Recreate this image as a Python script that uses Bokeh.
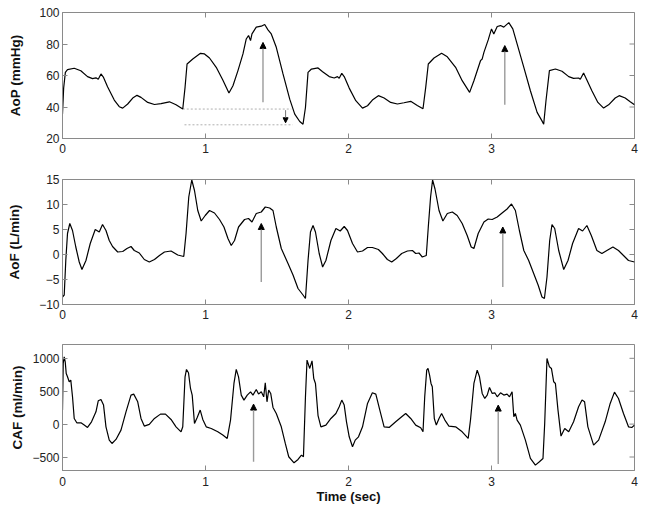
import math
from bokeh.plotting import figure
from bokeh.layouts import column
from bokeh.models import (LinearAxis, FixedTicker, Arrow, NormalHead, ColumnDataSource, Range1d)
from bokeh.embed import file_html
from bokeh.resources import INLINE

# ---------------- data ----------------
x_ticks = [0, 1, 2, 3, 4]
aop_ticks = [20, 40, 60, 80, 100]
aof_ticks = [-10, -5, 0, 5, 10, 15]
caf_ticks = [-500, 0, 500, 1000]

aop_t = [0.000, 0.008, 0.020, 0.035, 0.082, 0.128, 0.175, 0.210, 0.234, 0.250, 0.269, 0.287, 0.315, 0.362, 0.397,
         0.421, 0.456, 0.491, 0.521, 0.549, 0.596, 0.643, 0.689, 0.748, 0.794, 0.841, 0.857, 0.871, 0.911, 0.965,
         0.993, 1.028, 1.075, 1.121, 1.164, 1.192, 1.227, 1.262, 1.285, 1.301, 1.315, 1.325, 1.355, 1.390, 1.414,
         1.437, 1.460, 1.495, 1.542, 1.589, 1.624, 1.659, 1.682, 1.699, 1.717, 1.741, 1.787, 1.819, 1.865, 1.900,
         1.923, 1.935, 1.953, 1.970, 2.005, 2.051, 2.098, 2.133, 2.167, 2.209, 2.249, 2.295, 2.342, 2.388, 2.435,
         2.481, 2.521, 2.540, 2.558, 2.598, 2.651, 2.691, 2.749, 2.795, 2.847, 2.877, 2.923, 2.935, 2.947, 2.977,
         3.000, 3.016, 3.040, 3.063, 3.086, 3.121, 3.149, 3.179, 3.226, 3.272, 3.319, 3.353, 3.365, 3.381, 3.405,
         3.447, 3.493, 3.540, 3.574, 3.609, 3.621, 3.644, 3.667, 3.702, 3.744, 3.784, 3.819, 3.865, 3.893, 3.935,
         3.970, 4.000]
aop_v = [35.5, 52.0, 62.0, 63.7, 64.6, 63.0, 59.3, 58.0, 58.5, 57.6, 61.0, 58.8, 52.9, 44.4, 40.2,
         39.3, 41.9, 45.7, 47.4, 46.1, 42.9, 41.6, 42.1, 43.3, 41.4, 38.7, 52.5, 67.3, 70.5, 74.1,
         73.7, 71.1, 65.2, 57.1, 48.9, 53.5, 63.1, 73.7, 83.2, 85.4, 82.2, 86.4, 90.7, 91.3, 92.4,
         89.0, 86.4, 77.9, 61.0, 45.0, 35.5, 30.8, 29.1, 39.7, 62.0, 64.1, 64.8, 62.4, 59.3, 58.4,
         59.3, 58.2, 61.4, 59.3, 52.0, 44.0, 39.3, 40.8, 44.4, 47.2, 45.7, 42.9, 41.9, 42.7, 43.6,
         41.0, 38.9, 52.5, 67.3, 71.1, 74.1, 71.9, 65.2, 56.7, 49.3, 56.7, 69.4, 70.5, 74.7, 82.6,
         89.6, 86.4, 91.1, 91.7, 90.7, 93.6, 89.6, 80.1, 65.2, 50.3, 36.6, 31.2, 29.1, 44.0, 63.1,
         64.1, 62.7, 59.3, 58.2, 58.4, 57.6, 61.6, 57.1, 50.3, 42.9, 39.3, 41.4, 45.7, 47.2, 45.7,
         43.3, 41.4]

aof_t = [0.000, 0.012, 0.023, 0.035, 0.051, 0.070, 0.093, 0.117, 0.136, 0.164, 0.194, 0.229, 0.257, 0.280, 0.304,
         0.327, 0.350, 0.386, 0.421, 0.451, 0.479, 0.502, 0.537, 0.572, 0.607, 0.643, 0.678, 0.713, 0.759, 0.806,
         0.848, 0.864, 0.883, 0.904, 0.923, 0.946, 0.970, 0.998, 1.028, 1.063, 1.098, 1.129, 1.157, 1.180, 1.203,
         1.231, 1.273, 1.301, 1.325, 1.355, 1.390, 1.418, 1.449, 1.472, 1.495, 1.530, 1.577, 1.612, 1.647, 1.682,
         1.699, 1.717, 1.734, 1.752, 1.769, 1.795, 1.819, 1.842, 1.877, 1.912, 1.942, 1.970, 1.993, 2.028, 2.063,
         2.098, 2.133, 2.167, 2.209, 2.237, 2.272, 2.302, 2.335, 2.372, 2.412, 2.447, 2.470, 2.493, 2.516, 2.544,
         2.558, 2.574, 2.588, 2.605, 2.633, 2.660, 2.691, 2.726, 2.760, 2.795, 2.830, 2.858, 2.877, 2.907, 2.947,
         2.977, 3.005, 3.040, 3.074, 3.109, 3.140, 3.167, 3.195, 3.226, 3.260, 3.295, 3.326, 3.353, 3.370, 3.388,
         3.407, 3.423, 3.442, 3.470, 3.505, 3.535, 3.567, 3.609, 3.637, 3.667, 3.698, 3.737, 3.772, 3.807, 3.849,
         3.888, 3.923, 3.958, 4.000]
aof_v = [-8.5, -8.1, -1.2, 4.2, 6.2, 4.8, 1.5, -1.5, -3.0, -1.2, 2.2, 5.0, 4.5, 6.0, 4.8,
         2.8, 1.6, 0.5, 0.6, 1.2, 1.6, 0.8, 0.3, -1.0, -1.5, -1.0, -0.2, 0.5, 0.7, -0.1,
         -0.4, 4.2, 11.5, 14.9, 12.8, 8.8, 6.7, 7.8, 8.8, 8.3, 7.0, 5.5, 3.2, 1.8, 2.8,
         5.5, 7.0, 7.2, 6.5, 8.2, 8.5, 9.5, 9.3, 8.8, 5.5, 1.2, -1.8, -4.1, -6.8, -8.1,
         -8.8, -1.2, 4.5, 5.8, 4.5, 0.2, -2.5, -1.2, 2.8, 5.2, 4.7, 5.6, 4.8, 2.2, 0.5,
         0.7, 1.4, 1.4, 1.0, 0.2, -1.0, -1.5, -0.8, 0.2, 0.7, 0.8, 0.2, 0.3, -0.5, -0.2,
         5.5, 11.5, 14.9, 13.1, 8.8, 6.7, 8.2, 8.5, 7.8, 6.2, 3.8, 1.5, 1.2, 4.2, 6.5,
         7.1, 7.0, 7.5, 8.3, 9.1, 10.1, 8.8, 4.8, 0.8, -1.2, -3.8, -6.1, -8.5, -8.8, -4.5,
         2.8, 6.0, 5.2, 0.8, -3.0, -1.2, 2.2, 5.2, 4.7, 5.8, 3.8, 0.8, 0.2, 0.8, 1.5,
         0.8, -0.2, -1.2, -1.5]

caf_t = [0.000, 0.005, 0.012, 0.019, 0.026, 0.035, 0.047, 0.058, 0.070, 0.082, 0.100, 0.129, 0.152, 0.175, 0.203,
         0.234, 0.250, 0.269, 0.287, 0.304, 0.327, 0.346, 0.374, 0.409, 0.444, 0.479, 0.498, 0.526, 0.549, 0.572,
         0.607, 0.643, 0.685, 0.720, 0.759, 0.794, 0.829, 0.841, 0.857, 0.867, 0.881, 0.895, 0.907, 0.923, 0.942,
         0.963, 0.981, 1.005, 1.040, 1.086, 1.121, 1.152, 1.175, 1.199, 1.215, 1.231, 1.250, 1.269, 1.292, 1.315,
         1.332, 1.355, 1.371, 1.390, 1.407, 1.418, 1.430, 1.442, 1.456, 1.472, 1.495, 1.530, 1.558, 1.582, 1.619,
         1.647, 1.671, 1.685, 1.699, 1.710, 1.729, 1.745, 1.757, 1.769, 1.787, 1.807, 1.842, 1.877, 1.912, 1.935,
         1.953, 1.970, 1.986, 2.005, 2.028, 2.047, 2.070, 2.098, 2.133, 2.167, 2.191, 2.219, 2.249, 2.284, 2.330,
         2.372, 2.400, 2.435, 2.470, 2.505, 2.521, 2.533, 2.547, 2.556, 2.567, 2.577, 2.586, 2.600, 2.614, 2.633,
         2.651, 2.674, 2.702, 2.749, 2.795, 2.837, 2.853, 2.877, 2.900, 2.916, 2.935, 2.953, 2.970, 2.986, 3.005,
         3.023, 3.040, 3.063, 3.086, 3.109, 3.126, 3.144, 3.156, 3.167, 3.179, 3.202, 3.237, 3.272, 3.307, 3.335,
         3.360, 3.372, 3.388, 3.405, 3.419, 3.435, 3.447, 3.465, 3.486, 3.512, 3.540, 3.574, 3.609, 3.633, 3.651,
         3.674, 3.714, 3.749, 3.795, 3.830, 3.860, 3.888, 3.923, 3.958, 3.981, 4.000]
caf_v = [213, 922, 1023, 947, 770, 719, 643, 669, 415, 86, 20, 20, -15, -51, 35,
         187, 355, 375, 289, -41, -243, -294, -233, -91, 187, 441, 456, 339, 86, -30,
         -5, 86, 152, 152, 71, -41, -117, -41, 719, 831, 780, 542, 441, 10, 101,
         213, 71, -41, -66, -117, -167, -218, 61, 618, 831, 719, 441, 365, 441, 491,
         441, 527, 456, 491, 415, 628, 339, 517, 466, 253, 162, -41, -294, -496, -588,
         -537, -471, -496, 415, 973, 846, 962, 694, 618, 130, -41, -15, 86, 162, 263,
         365, 289, 35, -193, -344, -243, -193, -41, 314, 476, 456, 213, -41, -51, 35,
         111, 162, 86, -15, -56, -117, 415, 821, 846, 745, 618, 567, 86, -15, 86,
         162, 61, -30, -41, -117, -218, 61, 618, 821, 719, 466, 390, 441, 557, 466,
         476, 415, 476, 441, 456, 415, 491, 111, 162, 61, -15, -243, -522, -623, -572,
         -522, 10, 998, 871, 846, 643, 618, 213, -182, -66, -117, 35, 263, 365, 339,
         -41, -319, -243, 35, 314, 486, 390, 162, -41, -51, -15]

# annotation arrows (time, start value, end value)
aop_arrow_t = [1.402, 3.093]
aop_arrow_y0 = [43.0, 41.4]
aop_arrow_y1 = [81.0, 79.0]
aof_arrow_t = [1.390, 3.079]
aof_arrow_y0 = [-5.5, -6.5]
aof_arrow_y1 = [6.2, 5.5]
caf_arrow_t = [1.336, 3.047]
caf_arrow_y0 = [-572, -608]
caf_arrow_y1 = [304, 289]
# dotted reference levels in AoP panel
ref_t0 = [0.841, 0.853]
ref_t1 = [1.600, 1.610]
ref_level = [38.7, 28.7]
drop_t = [1.560]
drop_y0 = [38.0]
drop_y1 = [30.0]

FONT = "Liberation Sans"
AXC = "#8a8a8a"


def style_axis(ax):
    ax.axis_line_color = AXC
    ax.major_tick_line_color = AXC
    ax.major_tick_in = 5
    ax.major_tick_out = 0
    ax.minor_tick_line_color = None
    ax.major_label_text_font = FONT
    ax.major_label_text_color = "#222222"
    ax.major_label_text_font_size = "12px"


def make_panel(height, top, bottom, yr, yticks, ylabel, label_standoff, x_standoff, xlabel=None):
    p = figure(width=642, height=height, x_range=Range1d(0, 4), y_range=Range1d(*yr),
               output_backend="svg", toolbar_location=None,
               min_border_left=62, min_border_right=8, min_border_top=top, min_border_bottom=bottom,
               x_axis_location=None, y_axis_location=None)
    p.grid.visible = False
    p.outline_line_color = AXC
    p.background_fill_color = "white"
    p.border_fill_color = "white"
    bx = LinearAxis(ticker=FixedTicker(ticks=x_ticks))
    style_axis(bx)
    bx.major_label_standoff = x_standoff
    if xlabel:
        bx.axis_label = xlabel
        bx.axis_label_text_font = FONT
        bx.axis_label_text_font_style = "bold"
        bx.axis_label_text_font_size = "13px"
        bx.axis_label_text_color = "#111111"
        bx.axis_label_standoff = 0
    ly = LinearAxis(ticker=FixedTicker(ticks=yticks))
    style_axis(ly)
    ly.major_label_standoff = 3
    ly.axis_label = ylabel
    ly.axis_label_text_font = FONT
    ly.axis_label_text_font_style = "bold"
    ly.axis_label_text_font_size = "13.5px"
    ly.axis_label_text_color = "#111111"
    ly.axis_label_standoff = label_standoff
    p.add_layout(bx, "below")
    p.add_layout(ly, "left")
    # inward ticks on the top and right edges of the box (MATLAB style)
    p.scatter(x=x_ticks, y=[yr[1]] * len(x_ticks), marker="dash", size=10, angle=math.pi / 2,
              line_color=AXC, line_width=1)
    p.scatter(x=[4] * len(yticks), y=yticks, marker="dash", size=10,
              line_color=AXC, line_width=1)
    return p


def add_arrows(p, t, y0, y1, color="#9a9a9a", width=1.4, size=6):
    src = ColumnDataSource(dict(x=t, y0=y0, y1=y1))
    p.add_layout(Arrow(source=src, x_start="x", y_start="y0", x_end="x", y_end="y1",
                       line_color=color, line_width=width,
                       end=NormalHead(size=size, fill_color="black", line_color="black", line_width=1)))


# Panel 1: AoP
p1 = make_panel(165, 12, 27, (20, 100), aop_ticks, "AoP (mmHg)", 13, 5)
p1.segment(x0=ref_t0, y0=ref_level, x1=ref_t1, y1=ref_level, line_color="#b0b0b0",
           line_width=1, line_dash="2 2")
add_arrows(p1, drop_t, drop_y0, drop_y1, color="#777777", width=1, size=5)
add_arrows(p1, aop_arrow_t, aop_arrow_y0, aop_arrow_y1)
p1.line(aop_t, aop_v, line_color="black", line_width=1.2)

# Panel 2: AoF
p2 = make_panel(165, 14, 26, (-10, 15), aof_ticks, "AoF (L/min)", 14, 5)
add_arrows(p2, aof_arrow_t, aof_arrow_y0, aof_arrow_y1)
p2.line(aof_t, aof_v, line_color="black", line_width=1.2)

# Panel 3: CAF
p3 = make_panel(176, 14, 36, (-705, 1210), caf_ticks, "CAF (ml/min)", 4, 6, xlabel="Time (sec)")
add_arrows(p3, caf_arrow_t, caf_arrow_y0, caf_arrow_y1)
p3.line(caf_t, caf_v, line_color="black", line_width=1.2)

layout = column(p1, p2, p3, spacing=0)
open("out.html", "w").write(file_html(layout, INLINE))
